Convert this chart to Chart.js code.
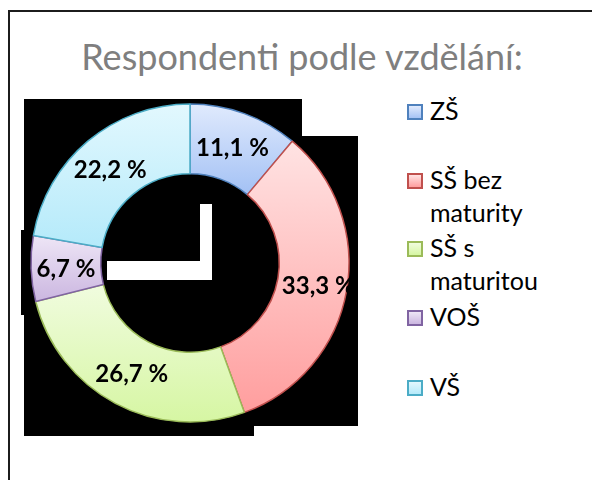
<!DOCTYPE html>
<html>
<head>
<meta charset="utf-8">
<script src="https://cdn.jsdelivr.net/npm/chart.js@4.4.0/dist/chart.umd.min.js"></script>
<style>
  html, body { margin: 0; padding: 0; background: #fff; width: 592px; height: 480px; overflow: hidden; font-family: Lato, "Open Sans", sans-serif; }
  #frame { position: absolute; left: 8px; top: 10px; width: 620px; height: 500px; border-top: 2px solid #1c1c1c; border-left: 2px solid #1c1c1c; }
  #title { position: absolute; left: 0; top: 38px; width: 604px; text-align: center; font-size: 36px; line-height: 36px; color: #7f7f7f; }
  #chart { position: absolute; left: 20px; top: 90px; }
  .item { position: absolute; left: 407px; font-size: 25px; line-height: 33px; color: #000; }
  .item .box { position: absolute; left: 0; top: 10px; width: 12px; height: 12px; border: 2px solid; }
  .item .txt { position: absolute; left: 23px; top: 0; width: 130px; white-space: normal; }
</style>
</head>
<body>
<div id="frame"></div>
<div id="title">Respondenti podle vzdělání:</div>
<canvas id="chart" width="340" height="346"></canvas>
<div id="legend"></div>
<script>
// data
const categories = ["ZŠ", "SŠ bez maturity", "SŠ s maturitou", "VOŠ", "VŠ"];
const counts = [5, 15, 12, 3, 10];
const percentLabels = counts.map(v => (v / counts.reduce((a, b) => a + b, 0) * 100).toFixed(1).replace(".", ",") + " %");

// colours (gradient top -> bottom, border)
const topColors = ["#e0eafd", "#ffe3e3", "#f0fcde", "#eee6f6", "#e2f8fe"];
const bottomColors = ["#a6c3f5", "#ff9e9e", "#d6f6a3", "#cbb6e0", "#b5eafa"];
const borderColors = ["#4f81bd", "#c0504d", "#9bbb59", "#8064a2", "#4bacc6"];

const OUTER = 159;
const INNER = 95;

// legend rows (tops in px)
const legendTops = [94, 163, 231, 300, 370];
const legend = document.getElementById("legend");
categories.forEach((c, i) => {
  const d = document.createElement("div");
  d.className = "item";
  d.style.top = legendTops[i] + "px";
  d.innerHTML = '<span class="box"></span><span class="txt"></span>';
  const box = d.querySelector(".box");
  box.style.borderColor = borderColors[i];
  box.style.background = "linear-gradient(" + topColors[i] + ", " + bottomColors[i] + ")";
  d.querySelector(".txt").textContent = c;
  legend.appendChild(d);
});

function sliceGradient(context) {
  const chart = context.chart;
  const area = chart.chartArea;
  const i = context.dataIndex;
  if (!area) return topColors[i];
  const total = counts.reduce((a, b) => a + b, 0);
  let before = 0;
  for (let k = 0; k < i; k++) before += counts[k];
  const a0 = -Math.PI / 2 + 2 * Math.PI * before / total;
  const a1 = a0 + 2 * Math.PI * counts[i] / total;
  const cy = (area.top + area.bottom) / 2;
  let minY = Infinity, maxY = -Infinity;
  for (let s = 0; s <= 40; s++) {
    const a = a0 + (a1 - a0) * s / 40;
    [OUTER, INNER].forEach(r => {
      const y = cy + r * Math.sin(a);
      minY = Math.min(minY, y);
      maxY = Math.max(maxY, y);
    });
  }
  const g = chart.ctx.createLinearGradient(0, minY, 0, maxY);
  g.addColorStop(0, topColors[i]);
  g.addColorStop(1, bottomColors[i]);
  return g;
}

// black backdrop with white bits, as in the picture
const backdrop = {
  id: "backdrop",
  beforeDraw(chart) {
    const ctx = chart.ctx;
    ctx.save();
    ctx.fillStyle = "#000";
    ctx.fillRect(4, 9, 278, 37);
    ctx.fillRect(4, 46, 334, 290);
    ctx.fillRect(1, 140, 4, 85);
    ctx.fillRect(4, 336, 230, 10);
    ctx.fillStyle = "#fff";
    ctx.fillRect(180, 114, 12, 76);
    ctx.fillRect(87, 171, 105, 19);
    ctx.restore();
  }
};

const pctLabels = {
  id: "pctLabels",
  afterDatasetsDraw(chart) {
    const ctx = chart.ctx;
    const meta = chart.getDatasetMeta(0);
    ctx.save();
    ctx.font = "bold 24px Lato";
    ctx.fillStyle = "#000";
    ctx.textAlign = "center";
    ctx.textBaseline = "middle";
    meta.data.forEach((arc, i) => {
      const p = arc.tooltipPosition();
      // the right-hand label sits a bit further out in the original
      const dx = i === 1 ? 6 : 0;
      ctx.fillText(percentLabels[i], p.x + dx, p.y + 2);
    });
    ctx.restore();
  }
};

new Chart(document.getElementById("chart"), {
  type: "doughnut",
  data: {
    labels: categories,
    datasets: [
      {
        data: counts,
        backgroundColor: sliceGradient,
        borderColor: borderColors,
        borderWidth: 1.5,
        hoverOffset: 0,
      },
    ],
  },
  options: {
    responsive: false,
    animation: false,
    radius: OUTER,
    cutout: INNER,
    layout: { padding: 0 },
    plugins: {
      legend: { display: false },
      tooltip: { enabled: false },
    },
  },
  plugins: [backdrop, pctLabels],
});
</script>
</body>
</html>
